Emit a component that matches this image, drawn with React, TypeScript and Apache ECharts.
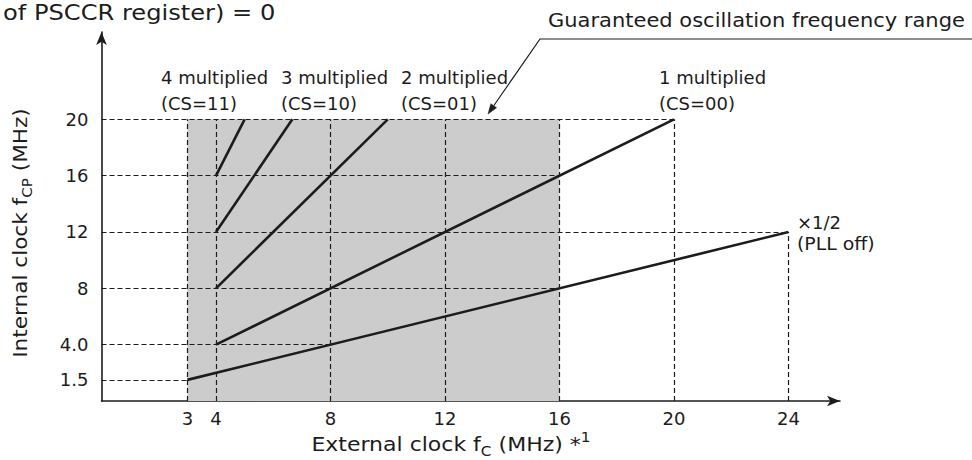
import React, { useEffect, useRef } from "react";
import * as echarts from "echarts";

// ---- data ----
const xTicks = [3, 4, 8, 12, 16, 20, 24];
const yTicks = [1.5, 4, 8, 12, 16, 20];

const halfPllOff = [[3, 1.5], [24, 12]];
const mult1 = [[4, 4], [20, 20]];
const mult2 = [[4, 8], [10, 20]];
const mult3 = [[4, 12], [6.667, 20]];
const mult4 = [[4, 16], [5, 20]];

const hGuideY = [20, 16, 12, 8, 4, 1.5];
const hGuideTo = [20, 16, 24, 16, 8, 3];
const vGuideX = [3, 4, 8, 12, 16, 20, 24];
const vGuideTo = [20, 20, 20, 20, 20, 20, 12];

const rangeX = [3, 16];
const rangeY = [0, 20];

const FONT = "DejaVu Sans";
const INK = "#1c1c1c";

function txt(x: number, y: number, text: string, size: number, scaleX = 1) {
  return {
    type: "text",
    x,
    y,
    scaleX,
    silent: true,
    z: 20,
    style: {
      text,
      fontFamily: FONT,
      fontSize: size,
      fill: INK,
      align: "left",
      verticalAlign: "middle",
      textAlign: "left",
      textVerticalAlign: "middle",
    },
  };
}

function richTitle(x: number, y: number, text: string, rotation: number, scaleX: number) {
  return {
    type: "text",
    x,
    y,
    rotation,
    scaleX,
    silent: true,
    z: 20,
    style: {
      text,
      fontFamily: FONT,
      fontSize: 20,
      fill: INK,
      align: "center",
      verticalAlign: "middle",
      textAlign: "center",
      textVerticalAlign: "middle",
      rich: {
        a: { fontFamily: FONT, fontSize: 20, lineHeight: 28, fill: INK, color: INK, verticalAlign: "middle" },
        s: { fontFamily: FONT, fontSize: 14, lineHeight: 14, fill: INK, color: INK, verticalAlign: "bottom" },
        p: { fontFamily: FONT, fontSize: 14, lineHeight: 14, fill: INK, color: INK, verticalAlign: "top" },
      },
    },
  };
}

export default function App() {
  const ref = useRef<HTMLDivElement>(null);

  useEffect(() => {
    if (!ref.current) return;
    const chart = echarts.init(ref.current, null, { renderer: "svg" });

    const dash = { type: [5, 3], color: INK, width: 1.2 };
    const guides: any[] = [];
    hGuideY.forEach((y, i) => guides.push([{ coord: [0, y] }, { coord: [hGuideTo[i], y] }]));
    vGuideX.forEach((x, i) => guides.push([{ coord: [x, 0] }, { coord: [x, vGuideTo[i]] }]));

    const lineSeries = (data: number[][]) => ({
      type: "line",
      data,
      symbol: "none",
      silent: true,
      z: 5,
      lineStyle: { color: INK, width: 2.6 },
    });

    // leader arrow for the annotation
    const p0 = [540, 39];
    const tip = [488, 114];
    const dx = tip[0] - p0[0];
    const dy = tip[1] - p0[1];
    const len = Math.sqrt(dx * dx + dy * dy);
    const ux = dx / len, uy = dy / len;
    const bx = tip[0] - ux * 10, by = tip[1] - uy * 10;
    const px = -uy * 3.5, py = ux * 3.5;

    chart.setOption({
      animation: false,
      grid: { left: 101.5, right: 132, top: 32, bottom: 59, containLabel: false },
      xAxis: {
        type: "value",
        min: 0,
        max: 25.8,
        splitLine: { show: false },
        axisTick: { show: false },
        axisLine: {
          lineStyle: { color: INK, width: 1.6 },
          symbol: ["none", "arrow"],
          symbolSize: [8, 13],
        },
        axisLabel: {
          customValues: xTicks,
          fontFamily: FONT,
          fontSize: 18,
          color: INK,
          margin: 8,
        },
      },
      yAxis: {
        type: "value",
        min: 0,
        max: 26.2,
        splitLine: { show: false },
        axisTick: { show: false },
        axisLine: {
          lineStyle: { color: INK, width: 1.6 },
          symbol: ["none", "arrow"],
          symbolSize: [8, 13],
        },
        axisLabel: {
          customValues: yTicks,
          fontFamily: FONT,
          fontSize: 18,
          color: INK,
          margin: 13,
          formatter: (v: number) => (v === 4 ? "4.0" : String(v)),
        },
      },
      series: [
        {
          type: "line",
          data: [],
          silent: true,
          z: 1,
          markArea: {
            silent: true,
            itemStyle: { color: "#cccccc" },
            data: [[{ coord: [rangeX[0], rangeY[0]] }, { coord: [rangeX[1], rangeY[1]] }]],
          },
        },
        {
          type: "line",
          data: [],
          silent: true,
          z: 2,
          markLine: {
            silent: true,
            symbol: ["none", "none"],
            label: { show: false },
            lineStyle: dash,
            emphasis: { disabled: true },
            data: guides,
          },
        },
        lineSeries(halfPllOff),
        lineSeries(mult1),
        lineSeries(mult2),
        lineSeries(mult3),
        lineSeries(mult4),
      ],
      graphic: [
        txt(3, 13, "of PSCCR register) = 0", 21, 1.15),
        txt(548, 20, "Guaranteed oscillation frequency range", 20, 1.05),
        txt(161, 77, "4 multiplied", 18),
        txt(161, 103, "(CS=11)", 18),
        txt(281, 77, "3 multiplied", 18),
        txt(281, 103, "(CS=10)", 18),
        txt(401, 77, "2 multiplied", 18),
        txt(401, 103, "(CS=01)", 18),
        txt(659, 77, "1 multiplied", 18),
        txt(659, 103, "(CS=00)", 18),
        txt(797, 222, "×1/2", 18),
        txt(797, 244, "(PLL off)", 18, 1.05),
        richTitle(311 + 140, 444, "{a|External clock f}{s|C}{a| (MHz) *}{p|1}", 0, 1.1),
        richTitle(20, 233, "{a|Internal clock f}{s|CP}{a| (MHz)}", Math.PI / 2, 1.08),
        {
          type: "polyline",
          silent: true,
          z: 20,
          shape: { points: [[972, 39], p0, [bx, by]] },
          style: { stroke: INK, lineWidth: 1.2, fill: "none" },
        },
        {
          type: "polygon",
          silent: true,
          z: 20,
          shape: { points: [tip, [bx + px, by + py], [bx - px, by - py]] },
          style: { fill: INK, stroke: INK, lineWidth: 0.5 },
        },
      ],
    });

    return () => chart.dispose();
  }, []);

  return (
    <div
      ref={ref}
      style={{ position: "fixed", left: 0, top: 0, width: 972, height: 460, background: "#fff" }}
    />
  );
}
